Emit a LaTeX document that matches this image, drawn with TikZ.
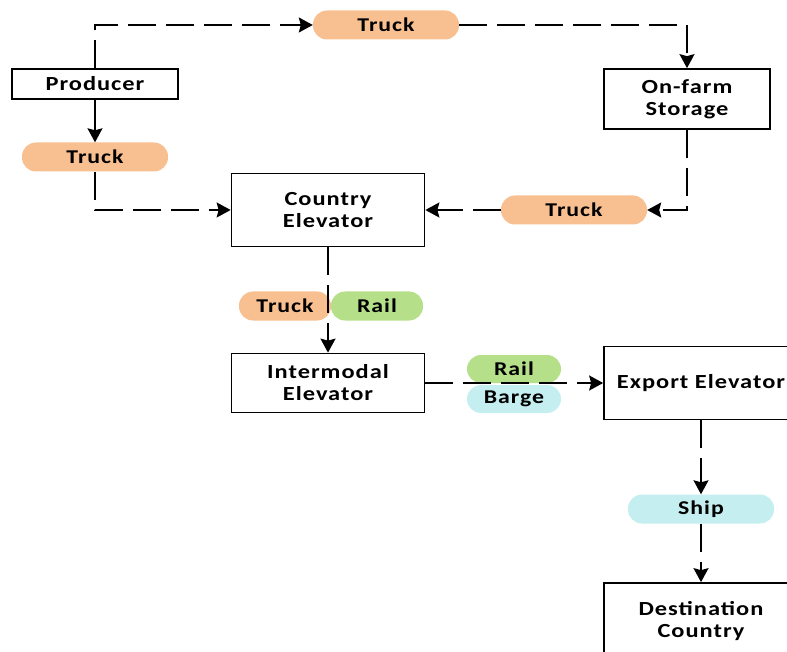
\documentclass[tikz,border=0pt]{standalone}
\usepackage{fontspec}
\setmainfont{Carlito}[FakeStretch=1.22,LetterSpace=5]
\usetikzlibrary{arrows.meta}
\definecolor{truckc}{RGB}{248,192,144}
\definecolor{railc}{RGB}{182,223,137}
\definecolor{waterc}{RGB}{196,238,240}
\begin{document}
\begin{tikzpicture}[x=1pt,y=-1pt,
  box/.style={draw,line width=1.7pt,align=center,inner sep=0pt,
    font=\bfseries\fontsize{20}{22}\selectfont},
  pill/.style={rounded corners=14pt,minimum height=29pt,inner sep=0pt,
    font=\bfseries\fontsize{19.5}{20}\selectfont},
  flow/.style={line width=1.8pt,dash pattern=on 28pt off 10pt,
    -{Stealth[length=14pt,width=15pt,inset=2pt]}},
  link/.style={line width=1.8pt,-{Stealth[length=14pt,width=15pt,inset=2pt]}}]
\clip (0,0) rectangle (787,652);
% boxes
\node[box,minimum width=166pt,minimum height=30pt] (prod) at (95,84) {Producer};
\node[box,minimum width=166pt,minimum height=60pt] (farm) at (687,99) {On-farm\\Storage};
\node[box,minimum width=193pt,minimum height=73pt] (country) at (328,210) {Country\\Elevator};
\node[box,minimum width=193pt,minimum height=59pt] (inter) at (328,383) {Intermodal\\Elevator};
\node[box,minimum width=194pt,minimum height=73pt] (export) at (701,383) {Export Elevator};
\node[box,minimum width=194pt,minimum height=76pt] (dest) at (701,621) {Destination\\Country};
% modes
\node[pill,fill=truckc,minimum width=146pt] (trucktop) at (386,25) {Truck};
\node[pill,fill=truckc,minimum width=146pt] (truckleft) at (95,157) {Truck};
\node[pill,fill=truckc,minimum width=146pt] (truckright) at (574,210) {Truck};
\node[pill,fill=truckc,minimum width=92pt] (truckmid) at (285,306) {Truck};
\node[pill,fill=railc,minimum width=92pt] (railmid) at (377,306) {Rail};
\node[pill,fill=railc,minimum width=94pt,minimum height=28pt] (railright) at (514,369) {Rail};
\node[pill,fill=waterc,minimum width=94pt,minimum height=28pt] (barge) at (514,399) {Barge};
\node[pill,fill=waterc,minimum width=146pt] (ship) at (701,509) {Ship};
% flows
\draw[flow] (prod.north) |- (trucktop.west);
\draw[flow] (trucktop.east) -| (farm.north);
\draw[flow] (farm.south) |- (truckright.east);
\draw[flow] (truckright.west) -- (country.east);
\draw[link] (prod.south) -- (truckleft.north);
\draw[flow] (truckleft.south) |- (country.west);
\draw[flow] (country.south) -- (inter.north);
\draw[flow] (inter.east) -- (export.west);
\draw[flow] (export.south) -- (ship.north);
\draw[flow] (ship.south) -- (dest.north);
\end{tikzpicture}
\end{document}
